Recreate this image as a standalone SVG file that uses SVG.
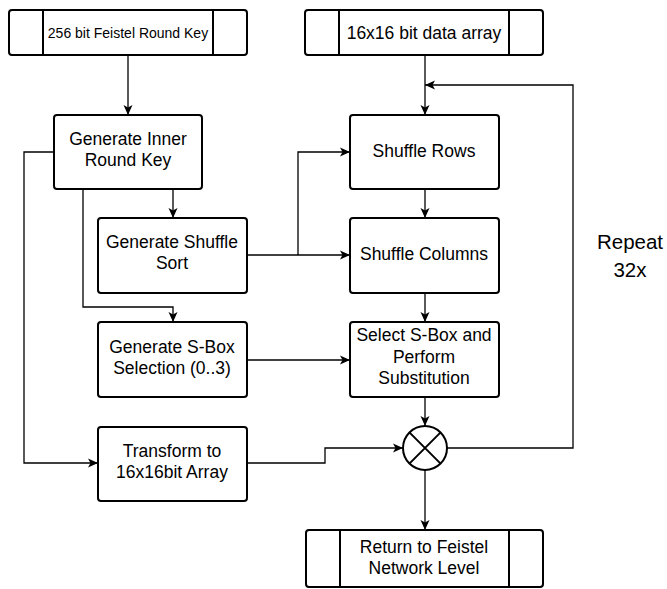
<svg xmlns="http://www.w3.org/2000/svg" width="667" height="589" viewBox="0 0 667 589">
<style>
.n{fill:#fff;stroke:#000;stroke-width:2}
.d{fill:none;stroke:#000;stroke-width:2}
.t{font-family:"Liberation Sans",Arial,sans-serif;font-size:17.5px;fill:#000;text-anchor:middle;dominant-baseline:central}
.r{font-family:"Liberation Sans",Arial,sans-serif;font-size:20.5px;fill:#000;text-anchor:middle}
.e{fill:none;stroke:#000;stroke-width:1.3;marker-end:url(#a)}
</style>
<defs>
<marker id="a" viewBox="0 0 10 10" refX="10" refY="5" markerWidth="10" markerHeight="10" markerUnits="userSpaceOnUse" orient="auto">
<path d="M0,0.5 L10,5 L0,9.5 L2.5,5 Z" fill="#000"/>
</marker>
</defs>
<g id="connectors">
<path class="e" d="M128,55 V115"/>
<path class="e" d="M425,55 V115"/>
<path class="e" d="M54,152 H24 V463 H98"/>
<path class="e" d="M83,189 V307 H173 V322"/>
<path class="e" d="M173,189 V218"/>
<path class="e" d="M247,255 H350"/>
<path class="e" d="M298,255 V152 H350"/>
<path class="e" d="M425,189 V218"/>
<path class="e" d="M425,293 V322"/>
<path class="e" d="M247,360 H350"/>
<path class="e" d="M247,463 H325 V448 H403"/>
<path class="e" d="M425,397 V426"/>
<path class="e" d="M447,448 H573 V85 H425"/>
<path class="e" d="M425,470 V530"/>
</g>
<g id="roundkey">
<rect class="n" x="9" y="10" width="238" height="45" rx="3"/>
<path class="d" d="M43,10 V55 M213,10 V55"/>
<text class="t" x="128" y="33" style="font-size:14px">256 bit Feistel Round Key</text>
</g>
<g id="dataarray">
<rect class="n" x="305" y="10" width="238" height="45" rx="3"/>
<path class="d" d="M339,10 V55 M509,10 V55"/>
<text class="t" x="424" y="33">16x16 bit data array</text>
</g>
<g id="innerkey">
<rect class="n" x="54" y="115" width="148" height="74" rx="3"/>
<text class="t" x="128" y="139">Generate Inner</text>
<text class="t" x="128" y="160">Round Key</text>
</g>
<g id="shufflesort">
<rect class="n" x="98" y="218" width="149" height="75" rx="3"/>
<text class="t" x="172" y="242">Generate Shuffle</text>
<text class="t" x="172" y="263">Sort</text>
</g>
<g id="sboxsel">
<rect class="n" x="98" y="322" width="149" height="75" rx="3"/>
<text class="t" x="172" y="347">Generate S-Box</text>
<text class="t" x="172" y="368">Selection (0..3)</text>
</g>
<g id="transform">
<rect class="n" x="98" y="427" width="149" height="74" rx="3"/>
<text class="t" x="172" y="451">Transform to</text>
<text class="t" x="172" y="472">16x16bit Array</text>
</g>
<g id="shufflerows">
<rect class="n" x="350" y="115" width="149" height="74" rx="3"/>
<text class="t" x="424" y="151">Shuffle Rows</text>
</g>
<g id="shufflecols">
<rect class="n" x="350" y="218" width="149" height="75" rx="3"/>
<text class="t" x="424" y="254">Shuffle Columns</text>
</g>
<g id="subst">
<rect class="n" x="350" y="322" width="149" height="75" rx="3"/>
<text class="t" x="424" y="335">Select S-Box and</text>
<text class="t" x="424" y="357">Perform</text>
<text class="t" x="424" y="378">Substitution</text>
</g>
<g id="xor">
<circle class="n" cx="425" cy="448" r="22"/>
<path class="d" d="M409.4,432.4 L440.6,463.6 M440.6,432.4 L409.4,463.6"/>
</g>
<g id="return">
<rect class="n" x="306" y="530" width="237" height="57" rx="3"/>
<path class="d" d="M340,530 V587 M509,530 V587"/>
<text class="t" x="424" y="547">Return to Feistel</text>
<text class="t" x="424" y="568">Network Level</text>
</g>
<g id="repeat">
<text class="r" x="630" y="249">Repeat</text>
<text class="r" x="630" y="277">32x</text>
</g>
</svg>
